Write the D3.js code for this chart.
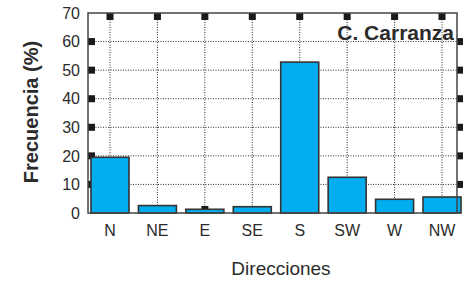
<!DOCTYPE html>
<html>
<head>
<meta charset="utf-8">
<script src="https://cdn.jsdelivr.net/npm/d3@7"></script>
<style>
  body { margin: 0; background: #fff; }
  text { font-family: "Liberation Sans", Arial, sans-serif; fill: #2b2b2b; }
</style>
</head>
<body>
<div id="chart"></div>
<script>
// data
var categories = ["N", "NE", "E", "SE", "S", "SW", "W", "NW"];
var frecuencia = [19.5, 2.6, 1.3, 2.2, 52.8, 12.5, 4.8, 5.6];
var yTicks = [0, 10, 20, 30, 40, 50, 60, 70];
var markerTicks = [10, 20, 30, 40, 50, 60];

var width = 465, height = 284;
var margin = { top: 13, right: 8, bottom: 71, left: 88 };

var svg = d3.select("#chart")
    .append("svg")
    .attr("width", width)
    .attr("height", height);

// x is index based, centers of the categories
var x = d3.scaleLinear()
    .domain([-0.464, 7.316])
    .range([margin.left, width - margin.right]);
var y = d3.scaleLinear()
    .domain([0, 70])
    .range([height - margin.bottom, margin.top]);

var barW = 38, sq = 7;
var dark = "#2b2b2b";

// dotted grid
svg.append("g").selectAll("line.hg")
    .data(yTicks.filter(function(d) { return d > 0 && d < 70; }))
    .enter().append("line")
    .attr("x1", x.range()[0]).attr("x2", x.range()[1])
    .attr("y1", function(d) { return y(d); })
    .attr("y2", function(d) { return y(d); })
    .attr("stroke", dark).attr("stroke-width", 1)
    .attr("stroke-dasharray", "1,1.5");

svg.append("g").selectAll("line.vg")
    .data(categories)
    .enter().append("line")
    .attr("x1", function(d, i) { return x(i); })
    .attr("x2", function(d, i) { return x(i); })
    .attr("y1", y(0)).attr("y2", y(70))
    .attr("stroke", dark).attr("stroke-width", 1)
    .attr("stroke-dasharray", "1,1.5");

// square tick markers
var marks = svg.append("g").attr("fill", "#1a1a1a");
marks.selectAll("rect.l").data(markerTicks).enter().append("rect")
    .attr("x", x.range()[0]).attr("y", function(d) { return y(d) - sq / 2; })
    .attr("width", sq).attr("height", sq);
marks.selectAll("rect.r").data(markerTicks).enter().append("rect")
    .attr("x", x.range()[1]).attr("y", function(d) { return y(d) - sq / 2; })
    .attr("width", sq - 1).attr("height", sq);
marks.selectAll("rect.t").data(categories).enter().append("rect")
    .attr("x", function(d, i) { return x(i) - sq / 2; }).attr("y", y(70))
    .attr("width", sq).attr("height", sq);
marks.selectAll("rect.b").data(categories).enter().append("rect")
    .attr("x", function(d, i) { return x(i) - sq / 2; }).attr("y", y(0) - sq)
    .attr("width", sq).attr("height", sq);

// bars
svg.append("g").selectAll("rect.bar")
    .data(frecuencia)
    .enter().append("rect")
    .attr("x", function(d, i) { return x(i) - barW / 2; })
    .attr("y", function(d) { return y(d); })
    .attr("width", barW)
    .attr("height", function(d) { return y(0) - y(d); })
    .attr("fill", "#00adee")
    .attr("stroke", "#333")
    .attr("stroke-width", 1.6);

// frame
svg.append("rect")
    .attr("x", x.range()[0]).attr("y", y(70))
    .attr("width", x.range()[1] - x.range()[0])
    .attr("height", y(0) - y(70))
    .attr("fill", "none").attr("stroke", "#444").attr("stroke-width", 1.5);

// y tick labels
svg.append("g").selectAll("text")
    .data(yTicks)
    .enter().append("text")
    .attr("x", 80)
    .attr("y", function(d) { return y(d); })
    .attr("dy", "0.36em")
    .attr("text-anchor", "end")
    .attr("font-size", "16px")
    .text(function(d) { return d; });

// x labels
svg.append("g").selectAll("text")
    .data(categories)
    .enter().append("text")
    .attr("x", function(d, i) { return x(i); })
    .attr("y", 236)
    .attr("text-anchor", "middle")
    .attr("font-size", "16px")
    .text(function(d) { return d; });

svg.append("text")
    .attr("x", 281).attr("y", 275)
    .attr("text-anchor", "middle")
    .attr("font-size", "19px")
    .text("Direcciones");

svg.append("text")
    .attr("transform", "translate(38,112) rotate(-90)")
    .attr("text-anchor", "middle")
    .attr("font-size", "20px")
    .attr("font-weight", "bold")
    .text("Frecuencia (%)");

svg.append("text")
    .attr("x", 454).attr("y", 40)
    .attr("text-anchor", "end")
    .attr("font-size", "21px")
    .attr("font-weight", "bold")
    .text("C. Carranza");
</script>
</body>
</html>
